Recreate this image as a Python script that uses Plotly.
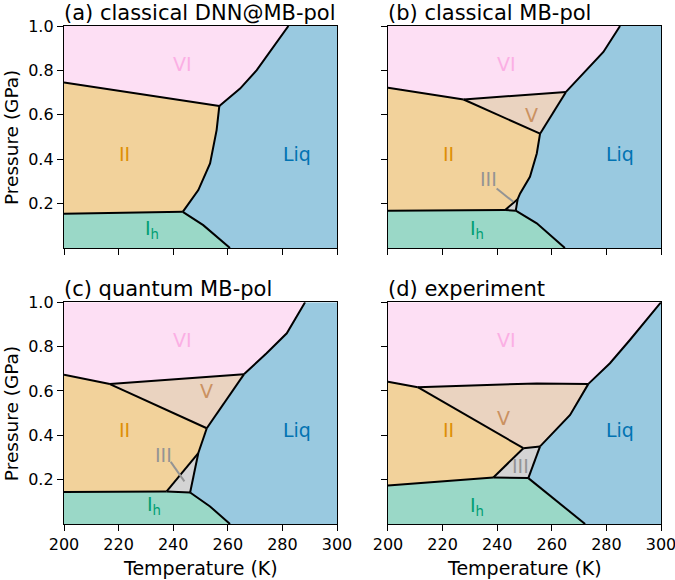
import plotly.graph_objects as go

# ---------------- axis limits ----------------
T_MIN, T_MAX = 200, 300
P_MIN, P_MAX = 0.0, 1.0
T_TICKS = [200, 220, 240, 260, 280, 300]
P_TICKS = [0.2, 0.4, 0.6, 0.8, 1.0]

TITLES = ["(a) classical DNN@MB-pol", "(b) classical MB-pol",
          "(c) quantum MB-pol", "(d) experiment"]

# ---------------- phase colours ----------------
LABEL_COLORS = {"VI": "#fbafe4", "II": "#de8f05", "Liq": "#0173b2",
                "Ih": "#029e73", "V": "#ca9161", "III": "#949494"}
FILL_COLORS = {"VI": "#fddff4", "II": "#f2d29b", "Liq": "#99c9e0",
               "Ih": "#9ad8c7", "V": "#ead3c0", "III": "#d4d4d4"}

# ---------------- (a) classical DNN@MB-pol : boundaries (T [K], P [GPa]) ----------------
A_VI_II = [(200, 0.745), (256.9, 0.640)]
A_II_LIQ = [(256.9, 0.640), (255.9, 0.531), (253.5, 0.381), (249.2, 0.261), (243.5, 0.163)]
A_II_IH = [(200, 0.154), (243.5, 0.163)]
A_IH_LIQ = [(243.5, 0.163), (251.0, 0.103), (260.8, 0.0)]
A_VI_LIQ = [(256.9, 0.640), (264.5, 0.718), (270.6, 0.801), (275.5, 0.883), (282.2, 1.0)]

# ---------------- (b) classical MB-pol ----------------
B_VI_II = [(200, 0.722), (227.7, 0.669)]
B_VI_V = [(227.7, 0.669), (265.2, 0.703)]
B_II_V = [(227.7, 0.669), (255.7, 0.515)]
B_V_LIQ = [(255.7, 0.515), (265.2, 0.703)]
B_II_LIQ = [(255.7, 0.515), (254.5, 0.426), (252.0, 0.321), (248.4, 0.246), (247.5, 0.220)]
B_II_III = [(247.5, 0.220), (242.9, 0.171)]
B_III_LIQ = [(247.5, 0.220), (246.8, 0.168)]
B_III_IH = [(242.9, 0.171), (246.8, 0.168)]
B_II_IH = [(200, 0.168), (242.9, 0.171)]
B_IH_LIQ = [(246.8, 0.168), (254.5, 0.111), (264.8, 0.0)]
B_VI_LIQ = [(265.2, 0.703), (271.5, 0.786), (278.9, 0.883), (285.0, 1.0)]

# ---------------- (c) quantum MB-pol ----------------
C_VI_II = [(200, 0.673), (216.8, 0.631)]
C_VI_V = [(216.8, 0.631), (265.9, 0.675)]
C_II_V = [(216.8, 0.631), (252.3, 0.432)]
C_V_LIQ = [(252.3, 0.432), (265.9, 0.675)]
C_II_LIQ = [(252.3, 0.432), (249.2, 0.320)]
C_II_III = [(249.2, 0.320), (237.6, 0.147)]
C_III_LIQ = [(249.2, 0.320), (246.2, 0.142)]
C_III_IH = [(237.6, 0.147), (246.2, 0.142)]
C_II_IH = [(200, 0.144), (237.6, 0.147)]
C_IH_LIQ = [(246.2, 0.142), (253.5, 0.079), (260.8, 0.0)]
C_VI_LIQ = [(265.9, 0.675), (274.2, 0.770), (281.6, 0.860), (288.3, 1.0)]

# ---------------- (d) experiment ----------------
D_VI_II = [(200, 0.642), (210.9, 0.617)]
D_VI_V = [(210.9, 0.617), (254.5, 0.634), (273.4, 0.632)]
D_II_V = [(210.9, 0.617), (249.6, 0.342)]
D_V_III = [(249.6, 0.342), (255.7, 0.350)]
D_V_LIQ = [(255.7, 0.350), (266.7, 0.492), (273.4, 0.632)]
D_II_III = [(249.6, 0.342), (238.6, 0.210)]
D_III_LIQ = [(255.7, 0.350), (251.4, 0.207)]
D_III_IH = [(238.6, 0.210), (251.4, 0.207)]
D_II_IH = [(200, 0.174), (238.6, 0.210)]
D_IH_LIQ = [(251.4, 0.207), (272.2, 0.0)]
D_VI_LIQ = [(273.4, 0.632), (281.3, 0.725), (288.6, 0.830), (300, 1.0)]

# ---------------- phase labels: (name, T, P) ----------------
A_LABELS = [("VI", 243.5, 0.83), ("II", 222.0, 0.424), ("Liq", 285.3, 0.424), ("Ih", 232.3, 0.083)]
B_LABELS = [("VI", 243.5, 0.83), ("V", 252.4, 0.60), ("II", 222.2, 0.424), ("Liq", 285.0, 0.424),
            ("Ih", 232.6, 0.083), ("III", 236.7, 0.31)]
C_LABELS = [("VI", 243.5, 0.83), ("V", 252.3, 0.60), ("II", 222.0, 0.425), ("Liq", 285.3, 0.425),
            ("Ih", 232.8, 0.083), ("III", 236.4, 0.309)]
D_LABELS = [("VI", 243.5, 0.83), ("V", 242.2, 0.477), ("II", 222.2, 0.425), ("Liq", 285.0, 0.425),
            ("Ih", 232.6, 0.078), ("III", 248.4, 0.26)]

# leader lines for III labels
B_III_LEADER = [(239.8, 0.268), (245.9, 0.208)]
C_III_LEADER = [(239.1, 0.280), (244.1, 0.192)]


def rev(seg):
    return list(reversed(seg))


TL = (T_MIN, P_MAX)
BL = (T_MIN, P_MIN)
TR = (T_MAX, P_MAX)
BR = (T_MAX, P_MIN)

A_REGIONS = {
    "VI": [TL] + A_VI_II + A_VI_LIQ,
    "II": A_VI_II + A_II_LIQ + rev(A_II_IH),
    "Ih": [BL] + A_II_IH + A_IH_LIQ,
    "Liq": [BR, TR] + rev(A_VI_LIQ) + A_II_LIQ + A_IH_LIQ,
}
A_LINES = [A_VI_II, A_II_LIQ, A_II_IH, A_IH_LIQ, A_VI_LIQ]

B_REGIONS = {
    "VI": [TL] + B_VI_II + B_VI_V + B_VI_LIQ,
    "V": B_VI_V + rev(B_V_LIQ) + rev(B_II_V),
    "II": B_VI_II + B_II_V + B_II_LIQ + B_II_III + rev(B_II_IH),
    "III": B_II_III + B_III_IH + rev(B_III_LIQ),
    "Ih": [BL] + B_II_IH + B_III_IH + B_IH_LIQ,
    "Liq": [BR, TR] + rev(B_VI_LIQ) + rev(B_V_LIQ) + B_II_LIQ + B_III_LIQ + B_IH_LIQ,
}
B_LINES = [B_VI_II, B_VI_V, B_II_V, B_V_LIQ, B_II_LIQ, B_II_III, B_III_LIQ,
           B_III_IH, B_II_IH, B_IH_LIQ, B_VI_LIQ]

C_REGIONS = {
    "VI": [TL] + C_VI_II + C_VI_V + C_VI_LIQ,
    "V": C_VI_V + rev(C_V_LIQ) + rev(C_II_V),
    "II": C_VI_II + C_II_V + C_II_LIQ + C_II_III + rev(C_II_IH),
    "III": C_II_III + C_III_IH + rev(C_III_LIQ),
    "Ih": [BL] + C_II_IH + C_III_IH + C_IH_LIQ,
    "Liq": [BR, TR] + rev(C_VI_LIQ) + rev(C_V_LIQ) + C_II_LIQ + C_III_LIQ + C_IH_LIQ,
}
C_LINES = [C_VI_II, C_VI_V, C_II_V, C_V_LIQ, C_II_LIQ, C_II_III, C_III_LIQ,
           C_III_IH, C_II_IH, C_IH_LIQ, C_VI_LIQ]

D_REGIONS = {
    "VI": [TL] + D_VI_II + D_VI_V + D_VI_LIQ,
    "V": D_VI_V + rev(D_V_LIQ) + rev(D_V_III) + rev(D_II_V),
    "II": D_VI_II + D_II_V + D_II_III + rev(D_II_IH),
    "III": D_V_III + D_III_LIQ + rev(D_III_IH) + rev(D_II_III),
    "Ih": [BL] + D_II_IH + D_III_IH + D_IH_LIQ,
    "Liq": [BR, TR] + rev(D_VI_LIQ) + rev(D_V_LIQ) + D_III_LIQ + D_IH_LIQ,
}
D_LINES = [D_VI_II, D_VI_V, D_II_V, D_V_III, D_V_LIQ, D_II_III, D_III_LIQ,
           D_III_IH, D_II_IH, D_IH_LIQ, D_VI_LIQ]

PANELS = [
    (A_REGIONS, A_LINES, A_LABELS, None),
    (B_REGIONS, B_LINES, B_LABELS, B_III_LEADER),
    (C_REGIONS, C_LINES, C_LABELS, C_III_LEADER),
    (D_REGIONS, D_LINES, D_LABELS, None),
]

FONT = "DejaVu Sans"
fig = go.Figure()
annotations = []

# layout geometry (paper fractions)
X_DOMAINS = [[0.0, 0.4573], [0.5427, 1.0], [0.0, 0.4573], [0.5427, 1.0]]
Y_DOMAINS = [[0.5542, 1.0], [0.5542, 1.0], [0.0, 0.4452], [0.0, 0.4452]]

for i, (regions, lines, labels, leader) in enumerate(PANELS):
    n = i + 1
    xr = "x" if n == 1 else f"x{n}"
    yr = "y" if n == 1 else f"y{n}"
    for name, poly in regions.items():
        fig.add_trace(go.Scatter(
            x=[p[0] for p in poly], y=[p[1] for p in poly],
            mode="lines", fill="toself", fillcolor=FILL_COLORS[name],
            line=dict(width=0, color=FILL_COLORS[name]),
            hoverinfo="skip", showlegend=False, xaxis=xr, yaxis=yr))
    for seg in lines:
        fig.add_trace(go.Scatter(
            x=[p[0] for p in seg], y=[p[1] for p in seg], mode="lines",
            line=dict(color="black", width=2), hoverinfo="skip",
            showlegend=False, xaxis=xr, yaxis=yr))
    if leader:
        fig.add_trace(go.Scatter(
            x=[p[0] for p in leader], y=[p[1] for p in leader], mode="lines",
            line=dict(color=LABEL_COLORS["III"], width=2), hoverinfo="skip",
            showlegend=False, xaxis=xr, yaxis=yr))
    for name, t, p in labels:
        txt = "I<sub>h</sub>" if name == "Ih" else name
        annotations.append(dict(
            x=t, y=p, xref=xr, yref=yr, text=txt, showarrow=False,
            font=dict(family=FONT, size=19, color=LABEL_COLORS[name]),
            xanchor="center", yanchor="middle"))

    bottom = n in (3, 4)
    left = n in (1, 3)
    axis_common = dict(showline=True, linecolor="black", linewidth=1.3,
                       mirror=True, ticks="outside", ticklen=6, tickwidth=1.3,
                       tickcolor="black", showgrid=False, zeroline=False,
                       automargin=False, ticklabeloverflow="allow",
                       tickfont=dict(family=FONT, size=16, color="black"))
    xa = dict(axis_common, range=[T_MIN, T_MAX], tickvals=T_TICKS,
              showticklabels=bottom, domain=X_DOMAINS[i], anchor=yr)
    ya = dict(axis_common, range=[P_MIN, P_MAX], tickvals=P_TICKS,
              tickformat=".1f", showticklabels=left, domain=Y_DOMAINS[i], anchor=xr)
    fig.layout[("xaxis" if n == 1 else f"xaxis{n}")] = xa
    fig.layout[("yaxis" if n == 1 else f"yaxis{n}")] = ya

    # panel title
    annotations.append(dict(
        x=X_DOMAINS[i][0] - 0.003, y=Y_DOMAINS[i][1] + 0.027, xref="paper", yref="paper",
        text=TITLES[i], showarrow=False, xanchor="left", yanchor="middle",
        font=dict(family=FONT, size=21, color="black")))

# axis titles
for yd in (Y_DOMAINS[0], Y_DOMAINS[2]):
    annotations.append(dict(
        x=-0.0888, y=(yd[0] + yd[1]) / 2, xref="paper", yref="paper",
        text="Pressure (GPa)", textangle=-90, showarrow=False,
        xanchor="center", yanchor="middle",
        font=dict(family=FONT, size=18.5, color="black")))
for xd in (X_DOMAINS[2], X_DOMAINS[3]):
    annotations.append(dict(
        x=(xd[0] + xd[1]) / 2, y=-0.088, xref="paper", yref="paper",
        text="Temperature (K)", showarrow=False,
        xanchor="center", yanchor="middle",
        font=dict(family=FONT, size=19, color="black")))

fig.update_layout(
    width=675, height=580,
    margin=dict(l=64, r=14, t=26, b=56, autoexpand=False),
    paper_bgcolor="white", plot_bgcolor="white",
    annotations=annotations,
    font=dict(family=FONT),
)

fig.write_html("out.html", config={"displayModeBar": False},
               post_script="document.body.style.margin='0px';")
